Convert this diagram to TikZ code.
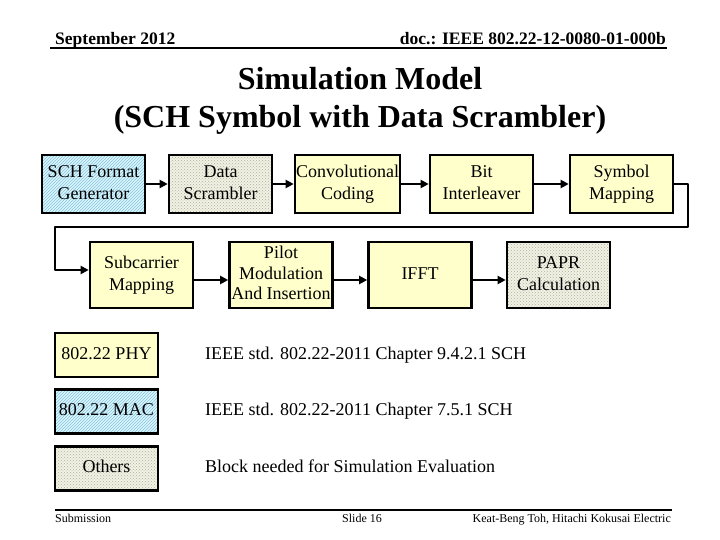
\documentclass[tikz,border=0pt]{standalone}
\usepackage{fontspec}
\setmainfont{Liberation Serif}
\usetikzlibrary{patterns,arrows.meta}
\definecolor{phyfill}{HTML}{FFFFCC}
\definecolor{macfill}{HTML}{D8F6FF}
\definecolor{machatch}{HTML}{8EC2D8}
\definecolor{othfill}{HTML}{F2F2E4}
\definecolor{othdots}{HTML}{B0B0A0}
\tikzset{
  blk/.style={draw=black, line width=2.6pt, minimum width=103pt, align=center, font=\fontsize{18}{21.5}\selectfont, inner sep=1pt},
  phy/.style={blk, fill=phyfill},
  mac/.style={blk, preaction={fill=macfill}, pattern=north east lines, pattern color=machatch},
  oth/.style={blk, preaction={fill=othfill}, pattern=crosshatch dots, pattern color=othdots},
  conn/.style={line width=2.4pt, -{Triangle[length=8pt,width=8pt]}},
  legtxt/.style={anchor=west, font=\fontsize{18}{21}\selectfont, inner sep=0pt},
}
\begin{document}
\begin{tikzpicture}[x=1pt,y=-1pt]
\useasboundingbox (0,0) rectangle (720,540);
% header
\node[anchor=base west, inner sep=0pt, font=\bfseries\fontsize{17.5}{20}\selectfont] (date) at (55,45) {September 2012};
\node[anchor=base east, inner sep=0pt, font=\bfseries\fontsize{17.5}{20}\selectfont] (doc) at (666,45) {doc.: IEEE 802.22-12-0080-01-000b};
\draw[line width=2pt] (50,48) coordinate (hl) -- (667,48) coordinate (hr);
% title
\node[inner sep=0pt, font=\bfseries\fontsize{32}{37.5}\selectfont, align=center] (title) at (360,101) {Simulation Model\\(SCH Symbol with Data Scrambler)};
% row 1
\node[mac, minimum height=58pt] (sch) at (93.5,184) {SCH Format\strut\\Generator\strut};
\node[oth, minimum height=58pt] (scr) at (220.5,184) {Data\strut\\Scrambler\strut};
\node[phy, minimum height=58pt] (conv) at (347.5,184) {Convolutional\strut\\Coding\strut};
\node[phy, minimum height=58pt] (bit) at (481.5,184) {Bit\strut\\Interleaver\strut};
\node[phy, minimum height=58pt] (sym) at (621.5,184) {Symbol\strut\\Mapping\strut};
% row 2
\node[phy, minimum height=66pt] (sub) at (141.5,275) {Subcarrier\strut\\Mapping\strut};
\node[phy, minimum height=66pt, inner sep=0pt, font=\fontsize{18}{20.5}\selectfont] (pil) at (281,275) {Pilot\strut\\Modulation\strut\\And Insertion\strut};
\node[phy, minimum height=66pt] (ifft) at (420,275) {IFFT\strut};
\node[oth, minimum height=66pt] (papr) at (558.5,275) {PAPR\strut\\Calculation\strut};
% connectors
\draw[conn] (sch) -- (scr);
\draw[conn] (scr) -- (conv);
\draw[conn] (conv) -- (bit);
\draw[conn] (bit) -- (sym);
\coordinate (r1) at (688,184);
\coordinate (r2) at (688,227);
\coordinate (r3) at (55,227);
\coordinate (r4) at (55,270);
\draw[conn, line join=round] (sym.east) -- (r1) -- (r2) -- (r3) -- (r4) -- (r4 -| sub.west);
\draw[conn] ([yshift=-5pt]sub.east) -- ([yshift=-5pt]pil.west);
\draw[conn] ([yshift=-5pt]pil.east) -- ([yshift=-5pt]ifft.west);
\draw[conn] ([yshift=-5pt]ifft.east) -- ([yshift=-5pt]papr.west);
% legend
\node[phy, minimum height=44pt] (lphy) at (106.5,355) {802.22 PHY\strut};
\node[mac, minimum height=44pt] (lmac) at (106.5,411.5) {802.22 MAC\strut};
\node[oth, minimum height=44pt] (loth) at (106.5,468.5) {Others\strut};
\node[legtxt] (tphy) at (205,355) {IEEE std. 802.22-2011 Chapter 9.4.2.1 SCH\strut};
\node[legtxt] (tmac) at (205,411.5) {IEEE std. 802.22-2011 Chapter 7.5.1 SCH\strut};
\node[legtxt] (toth) at (205,468.5) {Block needed for Simulation Evaluation\strut};
% footer
\draw[line width=2.4pt] (55,510) coordinate (fl) -- (672,510) coordinate (fr);
\node[anchor=base west, inner sep=0pt, font=\fontsize{12}{14}\selectfont] (subm) at (55,522) {Submission};
\node[anchor=base, inner sep=0pt, font=\fontsize{12}{14}\selectfont] (slide) at (362,522) {Slide 16};
\node[anchor=base east, inner sep=0pt, font=\fontsize{12}{14}\selectfont] (auth) at (671,522) {Keat-Beng Toh, Hitachi Kokusai Electric};
\end{tikzpicture}
\end{document}
